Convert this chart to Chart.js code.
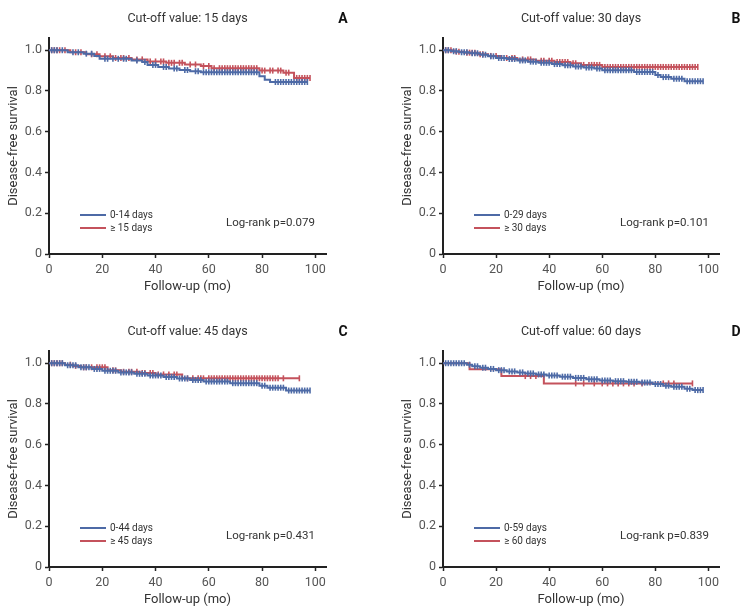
<!DOCTYPE html>
<html>
<head>
<meta charset="utf-8">
<title>Disease-free survival by cut-off value</title>
<script src="https://cdn.jsdelivr.net/npm/chart.js@4.4.1/dist/chart.umd.min.js"></script>
<style>
  html, body { margin: 0; padding: 0; background: #fff; }
  #wrap { position: relative; width: 749px; height: 613px; }
  .panel { position: absolute; width: 375px; height: 300px; }
</style>
</head>
<body>
<div id="wrap">
  <div class="panel" style="left:0;top:0"><canvas id="chartA"></canvas></div>
  <div class="panel" style="left:375px;top:0;width:374px"><canvas id="chartB"></canvas></div>
  <div class="panel" style="left:0;top:313px"><canvas id="chartC"></canvas></div>
  <div class="panel" style="left:375px;top:313px;width:374px"><canvas id="chartD"></canvas></div>
</div>

<script>
// ---- data ----
const xTicks = [0, 20, 40, 60, 80, 100];
const yTicks = [0, 0.2, 0.4, 0.6, 0.8, 1.0];

// A: cut-off 15 days
const aLabels = ['0-14 days', '\u2265 15 days'];
const aTime1 = [0, 7, 13, 17, 19, 31, 35, 37, 41, 45, 49, 53, 57, 79, 81, 83, 97];
const aSurv1 = [1.0, 0.99, 0.983, 0.972, 0.958, 0.95, 0.942, 0.928, 0.918, 0.91, 0.903, 0.897, 0.892, 0.872, 0.855, 0.844, 0.844];
const aCens1 = [1, 2, 3, 5, 9, 11, 14, 16, 21, 22, 24, 26, 28, 29, 33, 36, 39, 40, 43, 44, 47, 48, 51, 52, 55, 56, 58, 59, 60, 61, 62, 63, 64, 65, 66, 67, 68, 69, 70, 71, 72, 73, 74, 75, 76, 77, 78, 85, 86, 87, 88, 89, 90, 91, 92, 93, 94, 95, 96, 97];
const aTime2 = [0, 8, 14, 19, 24, 31, 37, 44, 51, 57, 61, 79, 88, 92, 98];
const aSurv2 = [1.0, 0.99, 0.98, 0.97, 0.962, 0.955, 0.945, 0.938, 0.93, 0.922, 0.912, 0.9, 0.89, 0.864, 0.864];
const aCens2 = [1, 2, 3, 4, 6, 10, 12, 16, 18, 21, 23, 25, 27, 28, 30, 33, 35, 38, 40, 42, 43, 45, 46, 47, 49, 50, 53, 55, 58, 60, 62, 64, 65, 66, 67, 68, 69, 70, 71, 72, 73, 74, 75, 76, 77, 78, 80, 81, 83, 84, 86, 87, 89, 90, 93, 94, 95, 96, 97, 98];

// B: cut-off 30 days
const bLabels = ['0-29 days', '\u2265 30 days'];
const bTime1 = [0, 3, 6, 10, 14, 17, 20, 24, 28, 32, 36, 41, 45, 49, 53, 57, 60, 72, 80, 82, 86, 91, 98];
const bSurv1 = [1.0, 0.995, 0.99, 0.985, 0.978, 0.97, 0.962, 0.957, 0.95, 0.944, 0.938, 0.932, 0.926, 0.92, 0.915, 0.91, 0.902, 0.893, 0.878, 0.868, 0.86, 0.848, 0.848];
const bCens1 = [1, 2, 4, 5, 7, 8, 9, 11, 12, 13, 15, 16, 18, 19, 21, 22, 23, 25, 26, 27, 29, 30, 31, 33, 34, 35, 37, 38, 39, 40, 42, 43, 44, 46, 47, 48, 50, 51, 52, 54, 55, 56, 58, 59, 61, 62, 63, 64, 65, 66, 67, 68, 69, 70, 71, 73, 74, 75, 76, 77, 78, 79, 81, 83, 84, 85, 87, 88, 89, 90, 92, 93, 94, 95, 96, 97, 98];
const bTime2 = [0, 4, 8, 13, 17, 22, 28, 35, 42, 48, 52, 60, 96];
const bSurv2 = [1.0, 0.993, 0.988, 0.98, 0.972, 0.962, 0.955, 0.948, 0.942, 0.936, 0.928, 0.918, 0.918];
const bCens2 = [1, 2, 3, 5, 6, 9, 10, 11, 12, 14, 15, 18, 20, 24, 26, 27, 30, 32, 33, 37, 38, 40, 41, 43, 44, 45, 46, 47, 49, 50, 53, 55, 56, 57, 58, 59, 61, 62, 63, 64, 65, 66, 67, 68, 69, 70, 71, 72, 73, 74, 75, 76, 77, 78, 79, 80, 81, 82, 83, 84, 85, 86, 87, 88, 89, 90, 91, 92, 93, 94, 95, 96];

// C: cut-off 45 days
const cLabels = ['0-44 days', '\u2265 45 days'];
const cTime1 = [0, 6, 11, 16, 20, 26, 32, 37, 43, 48, 53, 58, 68, 79, 82, 89, 98];
const cSurv1 = [1.0, 0.99, 0.98, 0.972, 0.963, 0.955, 0.948, 0.94, 0.933, 0.925, 0.918, 0.91, 0.902, 0.89, 0.88, 0.866, 0.866];
const cCens1 = [1, 2, 3, 4, 5, 7, 8, 9, 10, 12, 13, 14, 15, 17, 18, 19, 21, 22, 23, 24, 25, 27, 28, 29, 30, 31, 33, 34, 35, 36, 38, 39, 40, 41, 42, 44, 45, 46, 47, 49, 50, 51, 52, 54, 55, 56, 57, 59, 60, 61, 62, 63, 64, 65, 66, 67, 69, 70, 71, 72, 73, 74, 75, 76, 77, 78, 80, 81, 83, 84, 85, 86, 87, 88, 90, 91, 92, 93, 94, 95, 96, 97, 98];
const cTime2 = [0, 6, 9, 12, 22, 27, 34, 40, 50, 94];
const cSurv2 = [1.0, 0.993, 0.987, 0.98, 0.965, 0.958, 0.952, 0.945, 0.926, 0.926];
const cCens2 = [1, 2, 3, 4, 5, 8, 10, 13, 14, 16, 18, 19, 20, 21, 24, 25, 28, 30, 31, 33, 35, 36, 38, 39, 41, 43, 45, 47, 48, 52, 54, 56, 57, 58, 60, 61, 62, 63, 64, 65, 66, 67, 68, 69, 70, 71, 72, 73, 74, 75, 76, 77, 78, 79, 80, 81, 82, 83, 84, 85, 86, 88, 94];

// D: cut-off 60 days
const dLabels = ['0-59 days', '\u2265 60 days'];
const dTime1 = [0, 9, 11, 14, 17, 20, 24, 28, 31, 35, 39, 44, 49, 54, 59, 64, 69, 74, 79, 83, 86, 91, 94, 98];
const dSurv1 = [1.0, 0.993, 0.985, 0.978, 0.972, 0.966, 0.96, 0.955, 0.95, 0.945, 0.94, 0.934, 0.928, 0.921, 0.915, 0.912, 0.909, 0.905, 0.898, 0.89, 0.884, 0.875, 0.868, 0.868];
const dCens1 = [1, 2, 3, 4, 5, 6, 7, 8, 10, 12, 13, 15, 16, 18, 19, 21, 22, 23, 25, 26, 27, 29, 30, 32, 33, 34, 36, 37, 38, 40, 41, 42, 43, 45, 46, 47, 48, 50, 51, 52, 53, 55, 56, 57, 58, 60, 61, 62, 63, 65, 66, 67, 68, 70, 71, 72, 73, 75, 76, 77, 78, 80, 81, 82, 84, 85, 87, 88, 89, 90, 92, 93, 95, 96, 97, 98];
const dTime2 = [0, 10, 22, 38, 94];
const dSurv2 = [1.0, 0.97, 0.937, 0.901, 0.901];
const dCens2 = [31, 33, 35, 50, 53, 57, 60, 62, 64, 66, 68, 70, 72, 75, 83, 85, 87, 94];

// ---- drawing ----
const FONT = 'Roboto, "Liberation Sans", sans-serif';
const BLUE = '#4d6aa6';
const RED = '#c4525c';

function survAt(times, surv, t) {
  let s = surv[0];
  for (let i = 0; i < times.length; i++) {
    if (times[i] <= t) s = surv[i];
  }
  return s;
}

function kmDatasets(label, color, times, surv, cens) {
  return [
    {
      label: label,
      data: times.map((t, i) => ({ x: t, y: surv[i] })),
      borderColor: color,
      borderWidth: 2,
      stepped: true,
      pointRadius: 0,
      fill: false
    },
    {
      label: label + ' (censored)',
      data: cens.map(t => ({ x: t, y: survAt(times, surv, t) })),
      showLine: false,
      pointStyle: 'line',
      pointRotation: 90,
      pointRadius: 3,
      pointBorderColor: color,
      pointBorderWidth: 1.6
    }
  ];
}

// titles, panel letter, legend and log-rank note
const panelDecor = {
  id: 'panelDecor',
  afterDraw(chart, args, opts) {
    const { ctx, chartArea: a } = chart;
    ctx.save();
    ctx.textBaseline = 'middle';
    ctx.textAlign = 'center';
    ctx.fillStyle = '#333';
    ctx.font = '12.5px ' + FONT;
    ctx.fillText(opts.title, (a.left + a.right) / 2, a.top - 19);
    ctx.font = 'bold 14px ' + FONT;
    ctx.fillStyle = '#111';
    ctx.fillText(opts.letter, a.right + 17, a.top - 19);

    ctx.font = '10px ' + FONT;
    ctx.textAlign = 'left';
    [0, 2].forEach((di, k) => {
      const ds = chart.data.datasets[di];
      const y = a.bottom - 39 + k * 13;
      ctx.strokeStyle = ds.borderColor;
      ctx.lineWidth = 2;
      ctx.beginPath();
      ctx.moveTo(a.left + 31, y);
      ctx.lineTo(a.left + 57, y);
      ctx.stroke();
      ctx.fillStyle = '#333';
      ctx.fillText(ds.label, a.left + 61, y);
    });

    ctx.font = '11.5px ' + FONT;
    ctx.textAlign = 'right';
    ctx.fillText(opts.note, a.left + 266, a.bottom - 31);
    ctx.restore();
  }
};

function makePanel(id, panel) {
  new Chart(document.getElementById(id), {
    type: 'line',
    data: {
      datasets: [
        ...kmDatasets(panel.labels[0], BLUE, panel.time1, panel.surv1, panel.cens1),
        ...kmDatasets(panel.labels[1], RED, panel.time2, panel.surv2, panel.cens2)
      ]
    },
    options: {
      responsive: true,
      maintainAspectRatio: false,
      animation: false,
      events: [],
      layout: { padding: { left: panel.padLeft, right: panel.padRight, top: 38, bottom: 0 } },
      plugins: {
        legend: { display: false },
        tooltip: { enabled: false },
        panelDecor: { title: panel.title, letter: panel.letter, note: panel.note }
      },
      scales: {
        x: {
          type: 'linear',
          min: 0,
          max: 104,
          afterBuildTicks: s => { s.ticks = xTicks.map(v => ({ value: v })); },
          afterFit: s => { s.height = 46; },
          ticks: { color: '#555', padding: 4.5, font: { family: FONT, size: 12.5 } },
          grid: { drawOnChartArea: false, drawTicks: true, tickLength: 4, tickColor: '#222', tickWidth: 1.5 },
          border: { display: true, color: '#222', width: 2 },
          title: {
            display: true, text: 'Follow-up (mo)', color: '#333',
            font: { family: FONT, size: 13 }, padding: { top: 0, bottom: 5 }
          }
        },
        y: {
          type: 'linear',
          min: 0,
          max: 1.06,
          afterBuildTicks: s => { s.ticks = yTicks.map(v => ({ value: v })); },
          afterFit: s => { s.width = 49; },
          ticks: {
            color: '#555', padding: 3, font: { family: FONT, size: 12.5 },
            callback: v => (v === 0 ? '0' : v.toFixed(1))
          },
          grid: { drawOnChartArea: false, drawTicks: true, tickLength: 4, tickColor: '#222', tickWidth: 1.5 },
          border: { display: true, color: '#222', width: 2 },
          title: {
            display: true, text: 'Disease-free survival', color: '#333',
            font: { family: FONT, size: 13 }, padding: { top: 5.5, bottom: 0 }
          }
        }
      }
    },
    plugins: [panelDecor]
  });
}

makePanel('chartA', {
  title: 'Cut-off value: 15 days', letter: 'A', note: 'Log-rank p=0.079', labels: aLabels,
  time1: aTime1, surv1: aSurv1, cens1: aCens1, time2: aTime2, surv2: aSurv2, cens2: aCens2,
  padLeft: 0, padRight: 49
});
makePanel('chartB', {
  title: 'Cut-off value: 30 days', letter: 'B', note: 'Log-rank p=0.101', labels: bLabels,
  time1: bTime1, surv1: bSurv1, cens1: bCens1, time2: bTime2, surv2: bSurv2, cens2: bCens2,
  padLeft: 19, padRight: 30
});
makePanel('chartC', {
  title: 'Cut-off value: 45 days', letter: 'C', note: 'Log-rank p=0.431', labels: cLabels,
  time1: cTime1, surv1: cSurv1, cens1: cCens1, time2: cTime2, surv2: cSurv2, cens2: cCens2,
  padLeft: 0, padRight: 49
});
makePanel('chartD', {
  title: 'Cut-off value: 60 days', letter: 'D', note: 'Log-rank p=0.839', labels: dLabels,
  time1: dTime1, surv1: dSurv1, cens1: dCens1, time2: dTime2, surv2: dSurv2, cens2: dCens2,
  padLeft: 19, padRight: 30
});
</script>
</body>
</html>
